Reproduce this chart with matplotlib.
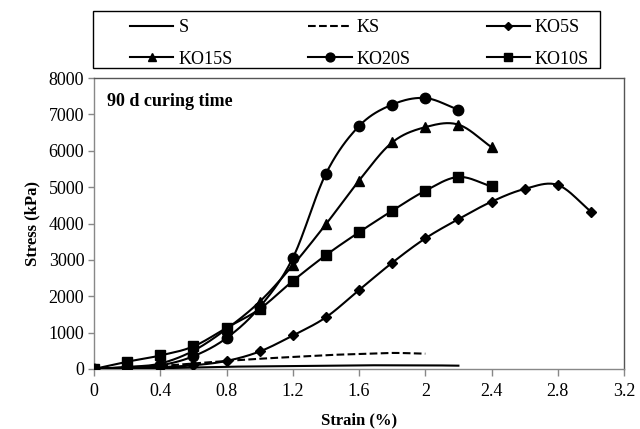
import numpy as np
import matplotlib
matplotlib.use("Agg")
import matplotlib.pyplot as plt
from matplotlib.lines import Line2D
from matplotlib.patches import Rectangle

plt.rcParams['font.family'] = ['Liberation Serif', 'DejaVu Serif']

strain_s = [0, 0.2, 0.4, 0.6, 0.8, 1.0, 1.2, 1.4, 1.6, 1.8, 2.0, 2.2]
stress_s = [0, 10, 20, 40, 60, 70, 80, 90, 100, 100, 100, 90]

strain_ks = [0, 0.2, 0.4, 0.6, 0.8, 1.0, 1.2, 1.4, 1.6, 1.8, 2.0]
stress_ks = [0, 30, 80, 150, 220, 280, 330, 380, 410, 440, 420]

strain_ko5 = [0, 0.2, 0.4, 0.6, 0.8, 1.0, 1.2, 1.4, 1.6, 1.8, 2.0, 2.2, 2.4, 2.6, 2.8, 3.0]
stress_ko5 = [0, 20, 50, 100, 220, 480, 920, 1420, 2170, 2920, 3590, 4120, 4600, 4950, 5060, 4330]

strain_ko10 = [0, 0.2, 0.4, 0.6, 0.8, 1.0, 1.2, 1.4, 1.6, 1.8, 2.0, 2.2, 2.4]
stress_ko10 = [0, 200, 370, 620, 1130, 1650, 2420, 3130, 3760, 4350, 4900, 5280, 5020]

strain_ko15 = [0, 0.2, 0.4, 0.6, 0.8, 1.0, 1.2, 1.4, 1.6, 1.8, 2.0, 2.2, 2.4]
stress_ko15 = [0, 50, 150, 500, 1100, 1850, 2850, 3980, 5180, 6230, 6650, 6720, 6100]

strain_ko20 = [0, 0.2, 0.4, 0.6, 0.8, 1.0, 1.2, 1.4, 1.6, 1.8, 2.0, 2.2]
stress_ko20 = [0, 50, 100, 350, 850, 1700, 3050, 5370, 6680, 7270, 7450, 7130]


def smooth(x, y, n=20):
    # Catmull-Rom curve through the points, like Excel's smoothed line
    x = np.asarray(x, float)
    y = np.asarray(y, float)
    px = np.concatenate([[2 * x[0] - x[1]], x, [2 * x[-1] - x[-2]]])
    py = np.concatenate([[2 * y[0] - y[1]], y, [2 * y[-1] - y[-2]]])
    t = np.linspace(0, 1, n, endpoint=False)
    xs, ys = [], []
    for i in range(1, len(px) - 2):
        for p, out in ((px, xs), (py, ys)):
            p0, p1, p2, p3 = p[i - 1], p[i], p[i + 1], p[i + 2]
            out.extend(0.5 * (2 * p1 + (-p0 + p2) * t
                              + (2 * p0 - 5 * p1 + 4 * p2 - p3) * t ** 2
                              + (-p0 + 3 * p1 - 3 * p2 + p3) * t ** 3))
    xs.append(x[-1])
    ys.append(y[-1])
    return np.array(xs), np.array(ys)


fig = plt.figure(figsize=(6.4, 4.29), dpi=100)
ax = fig.add_axes([0.147, 0.14, 0.828, 0.678])

series = [
    (strain_s, stress_s, '-', None, 0, 'S'),
    (strain_ks, stress_ks, '--', None, 0, 'KS'),
    (strain_ko5, stress_ko5, '-', 'D', 5, 'KO5S'),
    (strain_ko15, stress_ko15, '-', '^', 7, 'KO15S'),
    (strain_ko20, stress_ko20, '-', 'o', 7.5, 'KO20S'),
    (strain_ko10, stress_ko10, '-', 's', 7, 'KO10S'),
]

handles = {}
for x, y, ls, mk, ms, name in series:
    sx, sy = smooth(x, y)
    ax.plot(sx, sy, color='black', ls=ls, lw=1.5, zorder=3)
    if mk:
        ax.plot(x, y, ls='none', marker=mk, ms=ms, color='black', zorder=4)
    handles[name] = Line2D([], [], color='black', ls=ls, lw=1.5, marker=mk,
                           ms=ms * 0.85 if mk else 0, label=name)

ax.set_xlim(0, 3.2)
ax.set_ylim(0, 8000)
ax.set_xticks([0, 0.4, 0.8, 1.2, 1.6, 2, 2.4, 2.8, 3.2])
ax.set_xticklabels(['0', '0.4', '0.8', '1.2', '1.6', '2', '2.4', '2.8', '3.2'])
ax.set_yticks(range(0, 8001, 1000))
ax.tick_params(labelsize=13, direction='out', length=4, color='#888888', width=1, pad=3)
ax.tick_params(axis='x', length=5, pad=5)
for sp in ax.spines.values():
    sp.set_color('#888888')
    sp.set_linewidth(1)
ax.spines['right'].set_color('#555555')
ax.spines['top'].set_color('#555555')

ax.set_xlabel('Strain (%)', fontsize=12, fontweight='bold', labelpad=9)
ax.set_ylabel('Stress (kPa)', fontsize=12, fontweight='bold', labelpad=6)
ax.text(0.025, 0.95, '90 d curing time', transform=ax.transAxes, fontsize=13,
        fontweight='bold', va='top', ha='left')

# legend fills column by column: rows read S, KS, KO5S / KO15S, KO20S, KO10S
order = ['S', 'KO15S', 'KS', 'KO20S', 'KO5S', 'KO10S']
leg = fig.legend(handles=[handles[k] for k in order], ncol=3, loc='center left',
                 bbox_to_anchor=(0.203, 0.899), fontsize=13, frameon=False,
                 handlelength=2.4, handletextpad=0.28, columnspacing=4.2,
                 borderpad=0, borderaxespad=0, labelspacing=0.8)
fig.add_artist(Rectangle((0.1453, 0.8415), 0.792, 0.1329, transform=fig.transFigure,
                         fill=False, edgecolor='black', lw=1))

fig.savefig('out.png', dpi=100)
